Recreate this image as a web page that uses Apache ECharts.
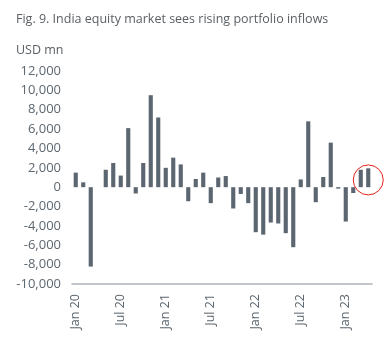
<!DOCTYPE html>
<html>
<head>
<meta charset="utf-8">
<script src="https://cdn.jsdelivr.net/npm/echarts@6/dist/echarts.min.js"></script>
<style>
html, body { margin: 0; padding: 0; background: #fff; }
#chart { width: 387px; height: 351px; }
</style>
</head>
<body>
<div id="chart"></div>
<script>
var months = ["Jan 20", "Feb 20", "Mar 20", "Apr 20", "May 20", "Jun 20", "Jul 20", "Aug 20", "Sep 20", "Oct 20", "Nov 20", "Dec 20",
	"Jan 21", "Feb 21", "Mar 21", "Apr 21", "May 21", "Jun 21", "Jul 21", "Aug 21", "Sep 21", "Oct 21", "Nov 21", "Dec 21",
	"Jan 22", "Feb 22", "Mar 22", "Apr 22", "May 22", "Jun 22", "Jul 22", "Aug 22", "Sep 22", "Oct 22", "Nov 22", "Dec 22",
	"Jan 23", "Feb 23", "Mar 23", "Apr 23"];

// portfolio flows, USD mn
var flows = [1500, 500, -8200, 0, 1800, 2500, 1200, 6100, -650, 2500, 9500, 7200,
	2000, 3050, 2350, -1450, 850, 1500, -1650, 1000, 1150, -2200, -700, -1650,
	-4650, -4900, -3650, -3750, -4750, -6200, 800, 6800, -1550, 1050, 4600, -150,
	-3550, -600, 1800, 1950];

var yTicks = { min: -10000, max: 12000, step: 2000 };

var chart = echarts.init(document.getElementById('chart'));

var textGrey = '#5d6770';

chart.setOption({
	animation: false,
	title: [{
		text: 'Fig. 9. India equity market sees rising portfolio inflows',
		left: 11, top: 8,
		textStyle: { fontFamily: 'Open Sans', fontSize: 12.5, fontWeight: 'normal', color: '#5a5f64' }
	}, {
		text: 'USD mn',
		left: 11, top: 39,
		textStyle: { fontFamily: 'Open Sans', fontSize: 12.5, fontWeight: 'normal', color: '#5a5f64' }
	}],
	grid: { left: 72, right: 15, top: 71, bottom: 67 },
	xAxis: [{
		type: 'category',
		data: months,
		axisLine: { show: false },
		axisTick: { show: false },
		axisLabel: {
			interval: 5, rotate: 90, margin: 10,
			fontFamily: 'Open Sans', fontSize: 12.5, color: textGrey
		}
	}, {
		type: 'category',
		data: months,
		position: 'bottom',
		axisLine: { show: true, onZero: true, lineStyle: { color: '#aeb4b9', width: 1.5 } },
		axisTick: { show: false },
		axisLabel: { show: false }
	}],
	yAxis: {
		type: 'value',
		min: yTicks.min, max: yTicks.max, interval: yTicks.step,
		splitLine: { show: false },
		axisLine: { show: false },
		axisTick: { show: false },
		axisLabel: {
			margin: 11,
			fontFamily: 'Open Sans', fontSize: 13, color: textGrey,
			formatter: function (v) { return v.toLocaleString('en-US'); }
		}
	},
	series: [{
		type: 'bar',
		data: flows,
		barWidth: '55%',
		itemStyle: { color: '#5b6670' },
		markPoint: {
			silent: true,
			symbol: 'circle',
			symbolSize: 30,
			itemStyle: { color: 'rgba(0,0,0,0)', borderColor: '#e2231a', borderWidth: 1 },
			label: { show: false },
			data: [{ coord: ['Apr 23', 750] }]
		}
	}]
});
</script>
</body>
</html>
